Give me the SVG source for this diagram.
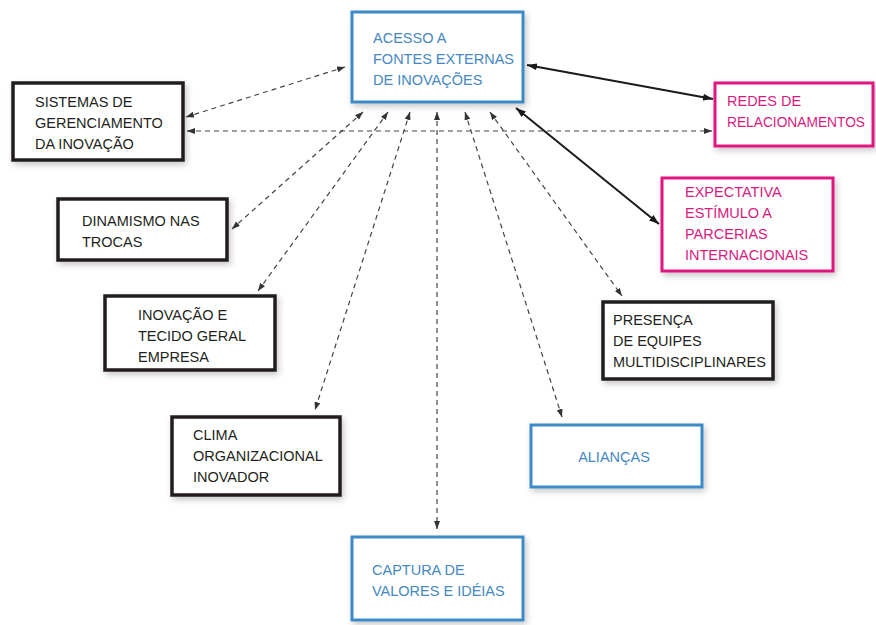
<svg xmlns="http://www.w3.org/2000/svg" width="876" height="625" viewBox="0 0 876 625">
<defs>
<filter id="sh" x="-10%" y="-10%" width="125%" height="130%">
<feDropShadow dx="2" dy="3" stdDeviation="3" flood-color="#000" flood-opacity="0.22"/>
</filter>
<marker id="ah" viewBox="0 0 8 6" refX="8" refY="3" markerWidth="8" markerHeight="6" markerUnits="userSpaceOnUse" orient="auto-start-reverse">
<path d="M0,0 L8,3 L0,6 z" fill="#333"/>
</marker>
<marker id="ahs" viewBox="0 0 10 7" refX="10" refY="3.5" markerWidth="10" markerHeight="7" markerUnits="userSpaceOnUse" orient="auto-start-reverse">
<path d="M0,0 L10,3.5 L0,7 z" fill="#1a1a1a"/>
</marker>
</defs>
<style>
.box{fill:#fff;filter:url(#sh)}
.blue{stroke:#3c8bc6;stroke-width:3}
.blk{stroke:#231f20;stroke-width:3.5}
.mag{stroke:#e0187f;stroke-width:3}
text{font-family:"Liberation Sans",Arial,sans-serif;font-size:14.5px}
.tb{fill:#4688bf}
.tk{fill:#231f20}
.tm{fill:#d81b7e}
.d{fill:none;stroke:#444;stroke-width:1.2;stroke-dasharray:5 4;marker-start:url(#ah);marker-end:url(#ah)}
.s{fill:none;stroke:#1a1a1a;stroke-width:2;marker-start:url(#ahs);marker-end:url(#ahs)}
</style>
<rect width="876" height="625" fill="#fff"/>
<g id="connectors">
<line class="d" x1="345" y1="67" x2="186" y2="117"/>
<line class="d" x1="187" y1="131" x2="712" y2="131"/>
<line class="s" x1="527" y1="65" x2="713" y2="99"/>
<line class="s" x1="516" y1="108" x2="659" y2="224"/>
<line class="d" x1="363" y1="112" x2="232" y2="229"/>
<line class="d" x1="388" y1="112" x2="258" y2="291"/>
<line class="d" x1="410" y1="112" x2="315" y2="410"/>
<line class="d" x1="437" y1="112" x2="437" y2="529"/>
<line class="d" x1="465" y1="112" x2="562" y2="417"/>
<line class="d" x1="490" y1="112" x2="622" y2="296"/>
</g>
<g id="acesso">
<rect class="box blue" x="352" y="12" width="171" height="90"/>
<text class="tb"><tspan x="373" y="43">ACESSO A</tspan><tspan x="373" y="64">FONTES EXTERNAS</tspan><tspan x="373" y="85">DE INOVAÇÕES</tspan></text>
</g>
<g id="sistemas">
<rect class="box blk" x="13" y="83" width="170" height="77"/>
<text class="tk"><tspan x="35" y="107">SISTEMAS DE</tspan><tspan x="35" y="128">GERENCIAMENTO</tspan><tspan x="35" y="149">DA INOVAÇÃO</tspan></text>
</g>
<g id="redes">
<rect class="box mag" x="715" y="83" width="158" height="63"/>
<text class="tm" x="727" y="106">REDES DE</text>
<text class="tm" x="727" y="127" textLength="138" lengthAdjust="spacingAndGlyphs">RELACIONAMENTOS</text>
</g>
<g id="expectativa">
<rect class="box mag" x="662" y="178" width="171" height="93"/>
<text class="tm"><tspan x="685" y="197">EXPECTATIVA</tspan><tspan x="685" y="218">ESTÍMULO A</tspan><tspan x="685" y="239">PARCERIAS</tspan><tspan x="685" y="260">INTERNACIONAIS</tspan></text>
</g>
<g id="dinamismo">
<rect class="box blk" x="58" y="199" width="169" height="61"/>
<text class="tk"><tspan x="82" y="226">DINAMISMO NAS</tspan><tspan x="82" y="247">TROCAS</tspan></text>
</g>
<g id="inovacao">
<rect class="box blk" x="105" y="296" width="170" height="74"/>
<text class="tk"><tspan x="138" y="320">INOVAÇÃO E</tspan><tspan x="138" y="341">TECIDO GERAL</tspan><tspan x="138" y="362">EMPRESA</tspan></text>
</g>
<g id="clima">
<rect class="box blk" x="172" y="417" width="168" height="78"/>
<text class="tk"><tspan x="193" y="440">CLIMA</tspan><tspan x="193" y="461">ORGANIZACIONAL</tspan><tspan x="193" y="482">INOVADOR</tspan></text>
</g>
<g id="presenca">
<rect class="box blk" x="603" y="302" width="170" height="77"/>
<text class="tk"><tspan x="613" y="325">PRESENÇA</tspan><tspan x="613" y="346">DE EQUIPES</tspan><tspan x="613" y="367">MULTIDISCIPLINARES</tspan></text>
</g>
<g id="aliancas">
<rect class="box blue" x="531" y="425" width="171" height="62"/>
<text class="tb" x="614" y="462" text-anchor="middle">ALIANÇAS</text>
</g>
<g id="captura">
<rect class="box blue" x="352" y="537" width="171" height="83"/>
<text class="tb"><tspan x="372" y="575">CAPTURA DE</tspan><tspan x="372" y="596">VALORES E IDÉIAS</tspan></text>
</g>
</svg>
